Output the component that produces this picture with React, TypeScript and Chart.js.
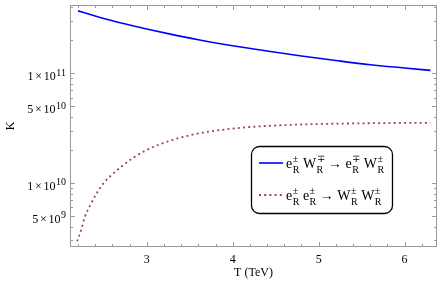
import React, { useEffect, useRef } from "react";
import { Chart, registerables } from "chart.js";

Chart.register(...registerables);

// ---- data ----
const tBlue = [2.2, 2.4, 2.6, 2.8, 3.0, 3.3, 3.6, 4.0, 4.4, 4.8, 5.2, 5.6, 6.0, 6.3];
const kBlue = [3.72e11, 3.34e11, 3.02e11, 2.76e11, 2.54e11, 2.26e11, 2.03e11, 1.79e11, 1.6e11, 1.44e11, 1.31e11, 1.2e11, 1.12e11, 1.065e11];
const tPurple = [2.19, 2.24, 2.28, 2.34, 2.42, 2.5, 2.6, 2.73, 2.85, 3.0, 3.3, 3.6, 3.9, 4.2, 4.6, 5.0, 5.5, 6.0, 6.3];
const kPurple = [2.93e9, 3.8e9, 4.9e9, 6.2e9, 8.1e9, 1.0e10, 1.2e10, 1.46e10, 1.71e10, 2.0e10, 2.47e10, 2.83e10, 3.07e10, 3.24e10, 3.37e10, 3.45e10, 3.5e10, 3.53e10, 3.54e10];

const seriesNames = ["e_R^± W_R^∓ → e_R^∓ W_R^±", "e_R^± e_R^± → W_R^± W_R^±"];
const seriesColors = ["#0000ff", "#9b3f78"];

const xMajorTicks = [3, 4, 5, 6];
const xMinorTicks = [2.2, 2.4, 2.6, 2.8, 3.2, 3.4, 3.6, 3.8, 4.2, 4.4, 4.6, 4.8, 5.2, 5.4, 5.6, 5.8, 6.2];
const yMajorTicks = [5e9, 1e10, 5e10, 1e11];
const yMajorMantissa = ["5", "1", "5", "1"];
const yMajorExponent = ["9", "10", "10", "11"];
const yMinorTicks = [3e9, 4e9, 6e9, 7e9, 8e9, 9e9, 2e10, 3e10, 4e10, 6e10, 7e10, 8e10, 9e10, 2e11, 3e11, 4e11];

const xTitle = "T (TeV)";
const yTitle = "K";
const xRange = [2.107, 6.377];
const yRange = [2.6e9, 4.21e11];

const FONT = "'Liberation Serif', 'Times New Roman', serif";

function drawRich(ctx: CanvasRenderingContext2D, text: string, x: number, y: number) {
  const tokens = text.split(" ");
  const base = `14px ${FONT}`;
  const small = `10px ${FONT}`;
  ctx.font = base;
  const space = ctx.measureText(" ").width;
  let cx = x;
  tokens.forEach((tok, i) => {
    const m = tok.match(/^(.+?)_(.)\^(.)$/);
    if (m) {
      ctx.font = base;
      ctx.fillText(m[1], cx, y);
      cx += ctx.measureText(m[1]).width + 0.5;
      ctx.font = small;
      ctx.fillText(m[3], cx, y - 6.5);
      ctx.fillText(m[2], cx, y + 4.5);
      cx += Math.max(ctx.measureText(m[3]).width, ctx.measureText(m[2]).width);
    } else {
      ctx.font = base;
      ctx.fillText(tok, cx, y);
      cx += ctx.measureText(tok).width;
    }
    if (i < tokens.length - 1) cx += space;
  });
}

const framePlugin = {
  id: "mmaFrame",
  afterDraw(chart: any) {
    const { ctx, chartArea: a, scales } = chart;
    const xs = scales.x;
    const ys = scales.y;
    ctx.save();
    // frame
    ctx.strokeStyle = "#9a9a9a";
    ctx.lineWidth = 1;
    ctx.strokeRect(a.left + 0.5, a.top + 0.5, a.right - a.left - 1, a.bottom - a.top - 1);
    const line = (x1: number, y1: number, x2: number, y2: number) => {
      ctx.beginPath();
      ctx.moveTo(x1, y1);
      ctx.lineTo(x2, y2);
      ctx.stroke();
    };
    const xt = (v: number, len: number) => {
      const x = Math.round(xs.getPixelForValue(v)) + 0.5;
      line(x, a.bottom, x, a.bottom - len);
      line(x, a.top, x, a.top + len);
    };
    const yt = (v: number, len: number) => {
      const y = Math.round(ys.getPixelForValue(v)) + 0.5;
      line(a.left, y, a.left + len, y);
      line(a.right, y, a.right - len, y);
    };
    xMajorTicks.forEach((v) => xt(v, 5));
    xMinorTicks.forEach((v) => xt(v, 3));
    yMajorTicks.forEach((v) => yt(v, 5));
    yMinorTicks.forEach((v) => yt(v, 3));

    // y tick labels with superscripts
    ctx.fillStyle = "#000";
    ctx.textBaseline = "alphabetic";
    ctx.textAlign = "left";
    yMajorTicks.forEach((v, i) => {
      const y = ys.getPixelForValue(v);
      const main = `12px ${FONT}`;
      const sup = `10px ${FONT}`;
      ctx.font = main;
      const wM = ctx.measureText(yMajorMantissa[i]).width;
      const wX = ctx.measureText("×").width;
      const w10 = ctx.measureText("10").width;
      ctx.font = sup;
      const wE = ctx.measureText(yMajorExponent[i]).width;
      const gap = 1.8;
      const total = wM + gap + wX + gap + w10 + 0.5 + wE;
      let x = a.left - 4 - total;
      ctx.font = main;
      ctx.fillText(yMajorMantissa[i], x, y + 6.7);
      x += wM + gap;
      ctx.fillText("×", x, y + 6.7);
      x += wX + gap;
      ctx.fillText("10", x, y + 6.7);
      x += w10 + 0.5;
      ctx.font = sup;
      ctx.fillText(yMajorExponent[i], x, y + 2.3);
    });

    // legend box
    const bx = 251, by = 146, bw = 141, bh = 67;
    ctx.beginPath();
    (ctx as any).roundRect(bx + 0.5, by + 0.5, bw, bh, 8);
    ctx.fillStyle = "#fff";
    ctx.fill();
    ctx.strokeStyle = "#000";
    ctx.lineWidth = 1.3;
    ctx.stroke();
    const rows = [168, 200];
    rows.forEach((base, i) => {
      const ly = base - 5;
      ctx.strokeStyle = seriesColors[i];
      ctx.lineWidth = i === 0 ? 1.6 : 1.8;
      ctx.setLineDash(i === 0 ? [] : [2, 3.2]);
      line(259, ly, 283, ly);
      ctx.setLineDash([]);
      ctx.fillStyle = "#000";
      drawRich(ctx, seriesNames[i], 286, base);
    });
    ctx.restore();
  },
};

export default function App() {
  const ref = useRef<HTMLCanvasElement | null>(null);
  useEffect(() => {
    if (!ref.current) return;
    const chart = new Chart(ref.current, {
      type: "line",
      data: {
        datasets: [
          {
            label: seriesNames[0],
            data: tBlue.map((t, i) => ({ x: t, y: kBlue[i] })),
            borderColor: seriesColors[0],
            borderWidth: 1.6,
            pointRadius: 0,
            cubicInterpolationMode: "monotone",
            fill: false,
          },
          {
            label: seriesNames[1],
            data: tPurple.map((t, i) => ({ x: t, y: kPurple[i] })),
            borderColor: seriesColors[1],
            borderWidth: 1.8,
            borderDash: [2, 3.2],
            pointRadius: 0,
            cubicInterpolationMode: "monotone",
            fill: false,
          },
        ],
      },
      options: {
        animation: false,
        responsive: false,
        maintainAspectRatio: false,
        layout: { padding: { top: 5, right: 6, left: 0, bottom: 0 } },
        plugins: { legend: { display: false }, tooltip: { enabled: false } },
        scales: {
          x: {
            type: "linear",
            min: xRange[0],
            max: xRange[1],
            afterFit: (s: any) => {
              s.height = 44;
            },
            afterBuildTicks: (s: any) => {
              s.ticks = xMajorTicks.map((v) => ({ value: v }));
            },
            ticks: {
              font: { family: FONT, size: 12 },
              color: "#000",
              padding: 6,
              maxRotation: 0,
              autoSkip: false,
              callback: (v: any) => String(v),
            },
            grid: { display: false, drawTicks: false },
            border: { display: false },
            title: {
              display: true,
              text: xTitle,
              color: "#000",
              font: { family: FONT, size: 12 },
              padding: { top: 0, bottom: 11 },
            },
          },
          y: {
            type: "logarithmic",
            min: yRange[0],
            max: yRange[1],
            afterFit: (s: any) => {
              s.width = 70;
            },
            afterBuildTicks: (s: any) => {
              s.ticks = yMajorTicks.map((v) => ({ value: v }));
            },
            ticks: { display: false },
            grid: { display: false, drawTicks: false },
            border: { display: false },
            title: {
              display: true,
              text: yTitle,
              color: "#000",
              font: { family: FONT, size: 12 },
              padding: { top: 4, bottom: 0 },
            },
          },
        },
      },
      plugins: [framePlugin],
    } as any);
    return () => chart.destroy();
  }, []);
  return (
    <div style={{ position: "fixed", left: 0, top: 0, width: 443, height: 291, background: "#fff" }}>
      <canvas ref={ref} width={443} height={291} style={{ display: "block" }} />
    </div>
  );
}
